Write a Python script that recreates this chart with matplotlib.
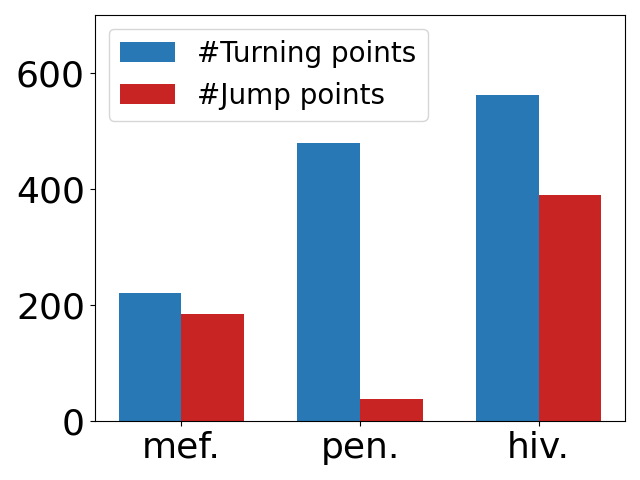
import matplotlib
matplotlib.use('Agg')
import matplotlib.pyplot as plt
import numpy as np

datasets = ['mef.', 'pen.', 'hiv.']
turning_points = [220, 479, 562]
jump_points = [185, 38, 389]

x = np.arange(len(datasets))
width = 0.35

fig, ax = plt.subplots(figsize=(6.4, 4.8), dpi=100)
ax.bar(x - width / 2, turning_points, width, color='#2878b5', label='#Turning points')
ax.bar(x + width / 2, jump_points, width, color='#c82423', label='#Jump points')

ax.set_ylim(0, 700)
ax.set_yticks([0, 200, 400, 600])
ax.set_xticks(x)
ax.set_xticklabels(datasets)
ax.tick_params(axis='both', labelsize=26)
ax.legend(loc='upper left', fontsize=20)

plt.subplots_adjust(left=0.148, right=0.977, top=0.969, bottom=0.123)
plt.savefig('out.png')
